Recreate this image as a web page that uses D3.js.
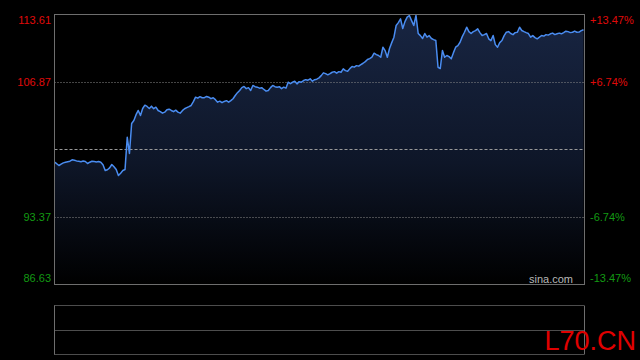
<!DOCTYPE html>
<html><head><meta charset="utf-8">
<script src="https://cdn.jsdelivr.net/npm/d3@7"></script>
<style>html,body{margin:0;padding:0;background:#000;}svg{display:block;}</style>
</head><body>
<svg id="c" width="640" height="360"></svg>
<script>
const minutes = [0,2,5,8,11,14,15,18,21,23,25,26,28,29,31,32,33,34,35,36,38,39,40,42,43,44,47,49,51,53,57,59,62,64,67,69,72,74,77,79,81,82,84,86,89,90,92,95,97,99,101,105,106,108,109,110,113,116,117,120,122,124,126,130,131,133,135,139,140,142,144,145,147,148,149,151,152,154,155,157,158,160,161,163,164,165,167,168,169,171,173,174,175,176,177,178,180,182,184,186,187,189,192,194,196,197,199,201,203,205,207,210,211,212,215,216,219,220,221,225,228,230,232,235,237,240];
const prices = [98.85,98.52,98.85,99.09,98.95,98.92,98.72,98.92,98.85,98.02,98.29,98.62,98.12,97.52,98.02,98.12,101.35,99.72,102.72,103.02,104.02,103.52,104.22,104.42,104.22,104.45,104.02,103.75,104.09,104.02,103.75,104.19,104.52,105.35,105.29,105.42,105.29,104.85,104.92,104.85,105.19,105.52,106.02,106.42,106.02,106.52,106.35,106.12,106.02,106.52,106.35,106.25,106.84,106.84,106.94,106.68,107.01,107.18,106.94,107.28,107.78,107.58,107.84,107.84,108.18,107.94,108.41,108.61,108.74,109.11,109.34,109.74,109.51,109.34,110.34,109.34,110.21,111.34,112.51,113.18,112.21,113.34,113.51,112.51,113.51,111.71,111.21,111.71,111.34,111.21,111.01,108.34,108.21,110.01,109.34,109.51,109.18,110.34,110.84,111.84,112.34,111.71,112.18,111.51,111.71,111.18,111.51,110.34,111.01,111.84,111.71,111.84,112.34,112.01,111.71,111.34,111.18,111.34,111.51,111.68,111.68,111.68,111.94,111.84,111.84,112.08];
// additional minute readings between the ones above
const extraMinutes = [1,3,4,6,7,9,10,12,13,16,17,19,20,22,24,27,30,37,41,45,46,48,50,52,54,55,56,58,60,61,63,65,66,68,70,71,73,75,76,78,80,83,85,87,88,91,93,94,96,98,100,102,103,104,107,111,112,114,115,118,119,121,123,125,127,128,129,132,134,136,137,138,141,143,146,150,153,156,159,162,166,170,172,179,181,183,185,188,190,191,193,195,198,200,202,204,206,208,209,213,214,217,218,222,223,224,226,227,229,231,233,234,236,238,239];
const extraPrices = [98.70,98.65,98.78,98.90,98.95,99.05,98.98,98.90,98.97,98.85,98.95,98.88,98.92,98.60,98.10,98.40,97.75,103.60,104.55,104.20,104.35,103.90,103.85,104.15,103.90,104.05,103.85,104.00,104.30,104.40,104.90,105.25,105.40,105.30,105.35,105.20,105.10,104.95,104.80,105.00,105.00,105.80,106.30,106.20,106.30,106.40,106.25,106.30,105.95,106.30,106.40,106.40,106.20,106.35,106.70,106.90,106.85,107.10,107.05,107.10,107.15,107.50,107.70,107.70,107.90,107.75,107.90,108.00,108.20,108.35,108.50,108.45,108.90,109.20,109.60,110.00,110.80,112.80,112.90,113.00,111.50,111.50,111.10,109.40,109.80,110.50,111.40,111.90,111.90,112.00,111.80,111.60,111.00,110.60,110.80,111.50,111.90,111.60,111.80,111.90,111.80,111.50,111.30,111.45,111.60,111.55,111.75,111.60,111.75,111.80,111.90,111.80,111.95,111.85,112.00];
const priceTicks = [113.61,106.87,100.12,93.37,86.63];
const pctTicks = ["+13.47%","+6.74%","","-6.74%","-13.47%"];
const prevClose = 100.12;

const svg = d3.select("#c");
const L = 54.5, R = 584.5, T = 14.5, B = 284.5;
const x = d3.scaleLinear().domain([0,240]).range([L, R-1]);
const y = d3.scaleLinear().domain([86.63,113.61]).range([B, T]);
const data = minutes.map((m,i)=>({m, p:prices[i]}))
  .concat(extraMinutes.map((m,i)=>({m, p:extraPrices[i]})))
  .sort((a,b)=>a.m-b.m);

const defs = svg.append("defs");
const g = defs.append("linearGradient").attr("id","ag").attr("gradientUnits","userSpaceOnUse")
  .attr("x1",0).attr("x2",0).attr("y1",T).attr("y2",B);
g.append("stop").attr("offset","0%").attr("stop-color","#182542");
g.append("stop").attr("offset","55%").attr("stop-color","#0e1628");
g.append("stop").attr("offset","100%").attr("stop-color","#000000");

// area
svg.append("path").datum(data)
  .attr("d", d3.area().x(d=>x(d.m)).y0(B).y1(d=>y(d.p)))
  .attr("fill","url(#ag)");

// grid lines
[106.87,93.37].forEach(v=>{
  svg.append("line").attr("x1",L).attr("x2",R).attr("y1",Math.round(y(v))+0.5).attr("y2",Math.round(y(v))+0.5)
    .attr("stroke","#8a8a8a").attr("stroke-dasharray","1,2");
});
svg.append("line").attr("x1",L).attr("x2",R).attr("y1",Math.round(y(prevClose))+0.5).attr("y2",Math.round(y(prevClose))+0.5)
  .attr("stroke","#9a9a9a").attr("stroke-dasharray","3,2");

// line
svg.append("path").datum(data)
  .attr("d", d3.line().x(d=>x(d.m)).y(d=>y(d.p)))
  .attr("fill","none").attr("stroke","#4a8cf0").attr("stroke-width",1.5).attr("stroke-linejoin","round");

// border
svg.append("rect").attr("x",L).attr("y",T).attr("width",R-L).attr("height",B-T)
  .attr("fill","none").attr("stroke","#6e6e6e");

// labels
const font = "Arial, 'Liberation Sans', sans-serif";
const col = v => v > prevClose ? "#e00a0a" : (v < prevClose ? "#139a13" : "#bbbbbb");
priceTicks.forEach((v,i)=>{
  if (i===2) return;
  let yy = y(v);
  if (i===0) yy += 6; if (i===4) yy -= 6;
  svg.append("text").attr("x",51).attr("y",yy).attr("dy","0.36em").attr("text-anchor","end")
    .attr("font-family",font).attr("font-size",11).attr("fill",col(v)).text(v.toFixed(2));
  svg.append("text").attr("x",590).attr("y",yy).attr("dy","0.36em").attr("text-anchor","start")
    .attr("font-family",font).attr("font-size",11).attr("fill",col(v)).text(pctTicks[i]);
});

svg.append("text").attr("x",573).attr("y",283).attr("text-anchor","end")
  .attr("font-family",font).attr("font-size",11).attr("fill","#b8b8b8").text("sina.com");

// bottom panel
const bT = 305.5, bM = 330.5, bB = 354.5;
[bT,bM,bB].forEach(v=>{
  svg.append("line").attr("x1",L).attr("x2",R).attr("y1",v).attr("y2",v)
    .attr("stroke","#9a9a9a").attr("stroke-dasharray","1,1");
});
[L,R].forEach(v=>{
  svg.append("line").attr("x1",v).attr("x2",v).attr("y1",bT).attr("y2",bB)
    .attr("stroke","#6e6e6e");
});

svg.append("text").attr("x",636).attr("y",350).attr("text-anchor","end")
  .attr("font-family",font).attr("font-size",27).attr("fill","#e00000").text("L70.CN");
</script>
</body></html>
